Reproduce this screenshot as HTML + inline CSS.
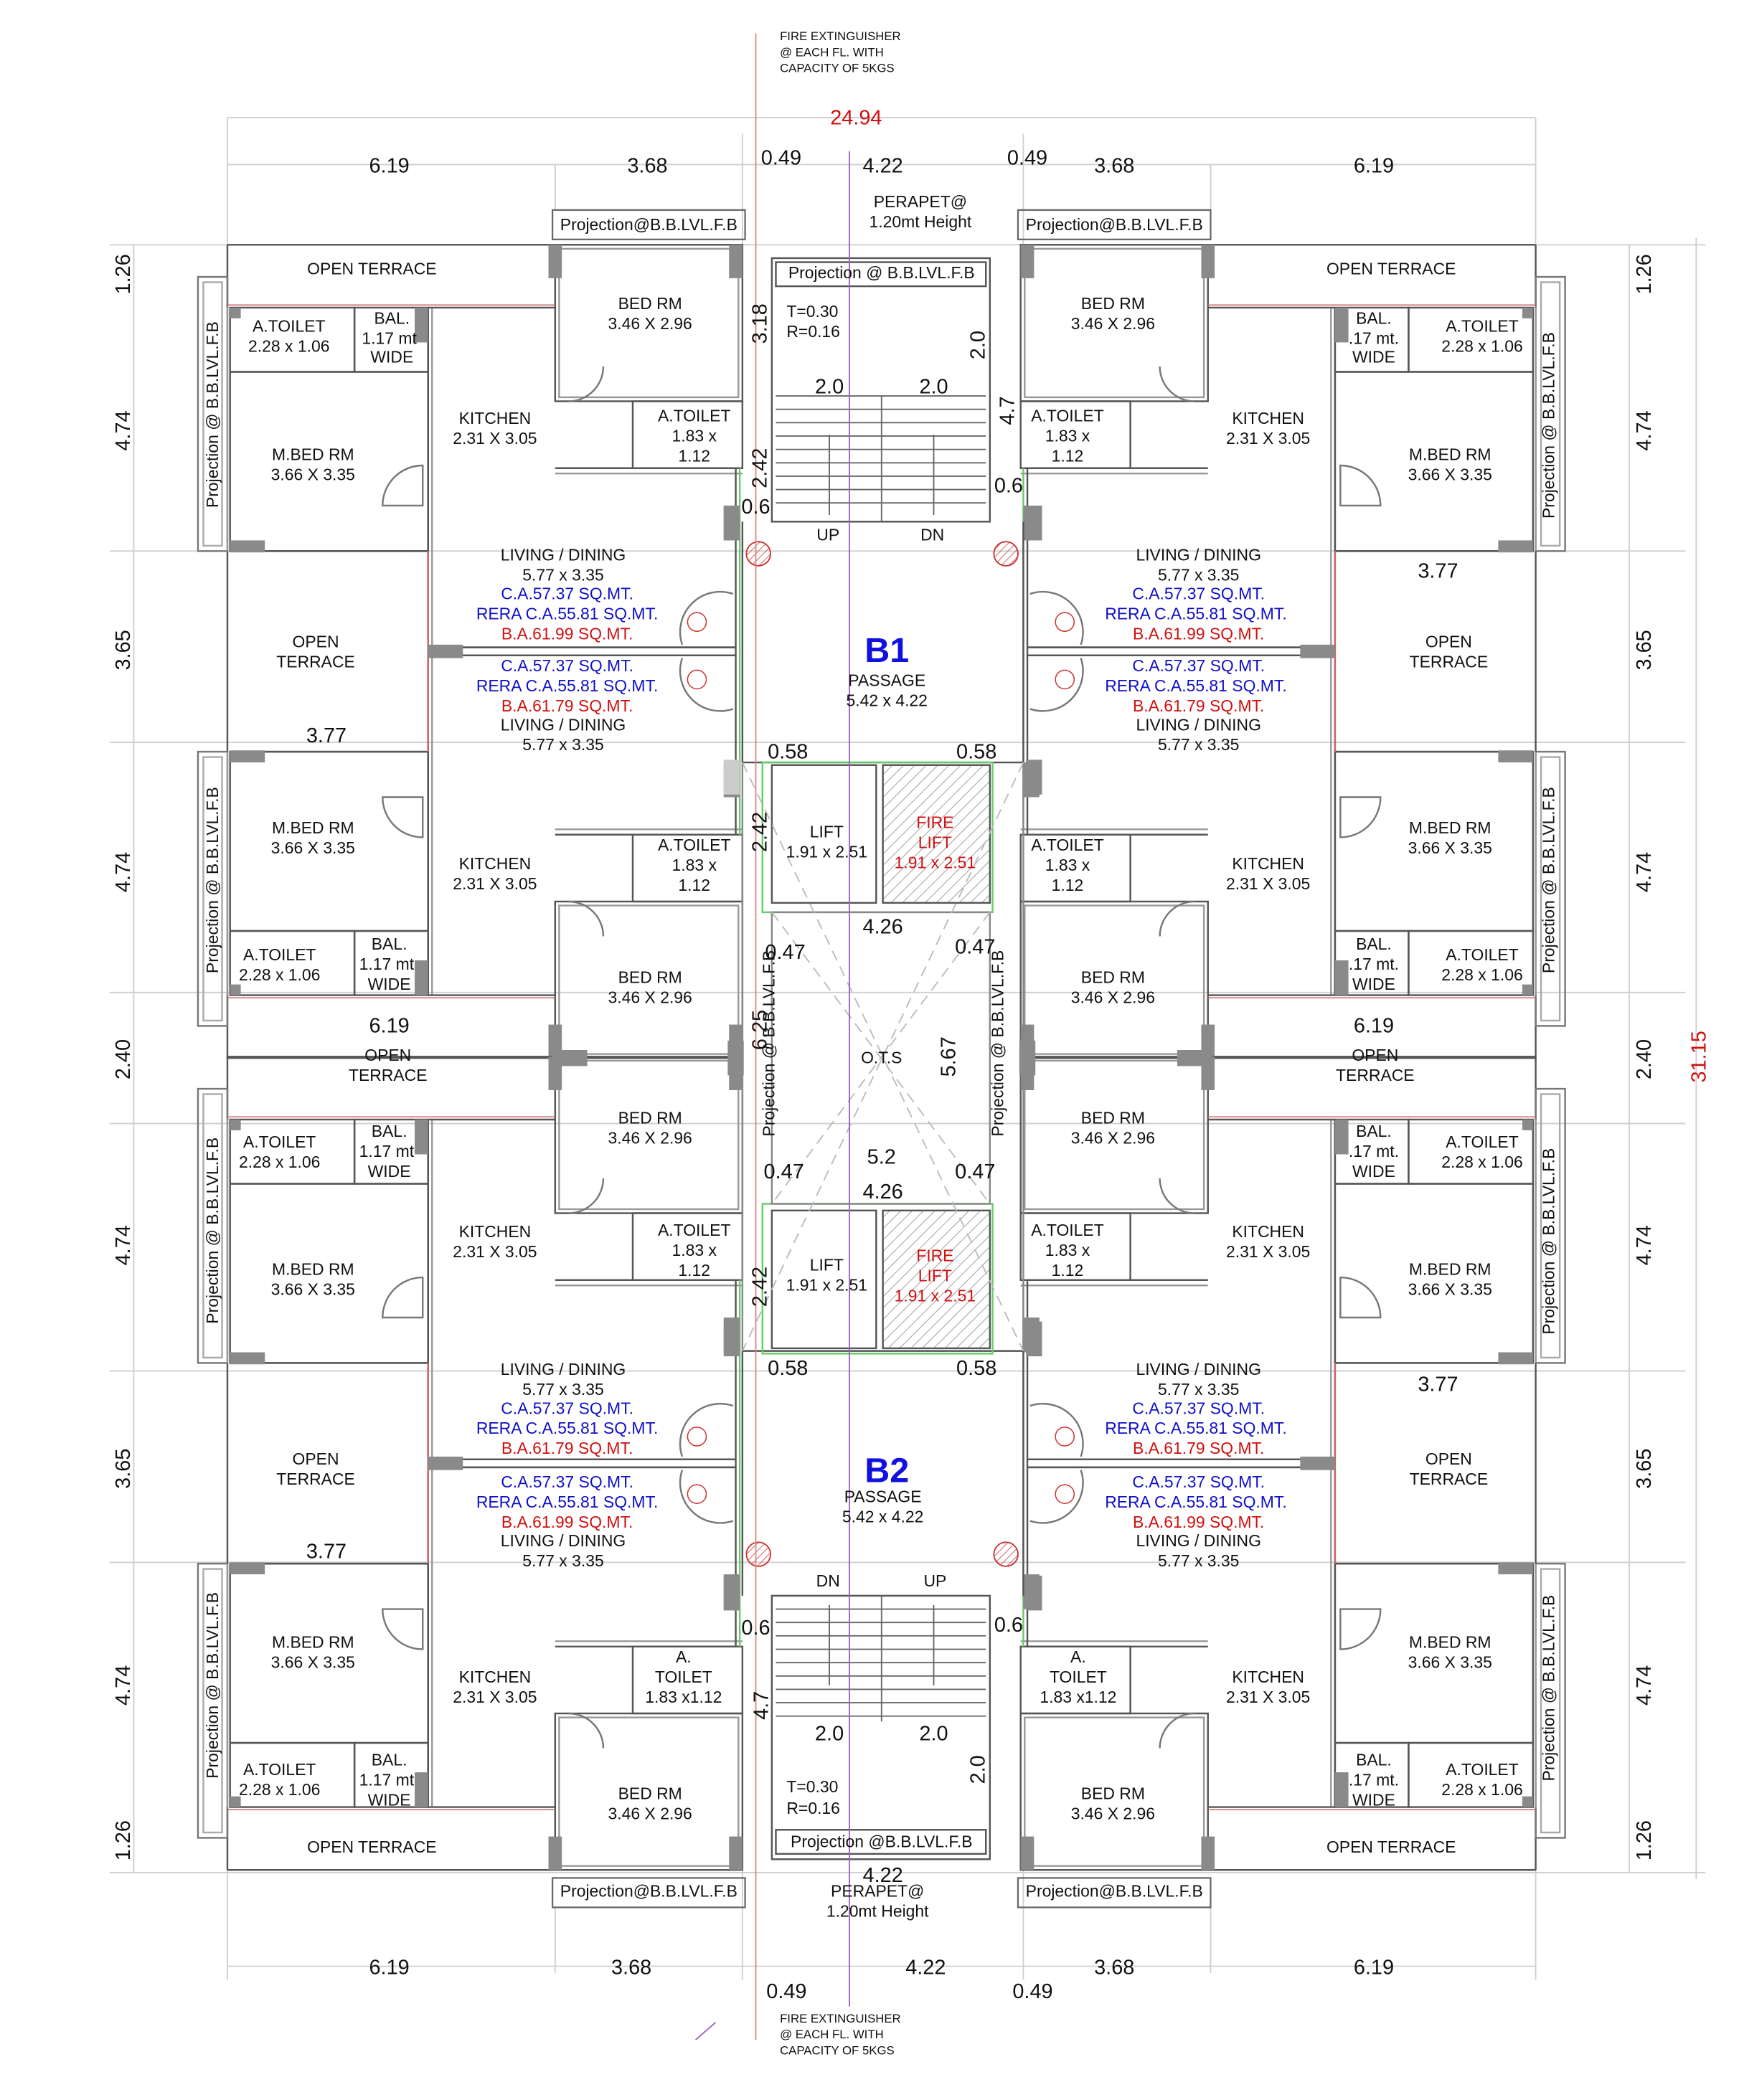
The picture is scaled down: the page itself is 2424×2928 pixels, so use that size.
<!DOCTYPE html>
<html><head><meta charset="utf-8"><style>
html,body{margin:0;padding:0;background:#fff;width:2424px;height:2928px;overflow:hidden}
svg{display:block}
text{font-family:"Liberation Sans",sans-serif;fill:#111}
.d{font-size:15.5px}
.r{font-size:12.3px}
.b{fill:#1010c8}
.rd{fill:#d01010}
.s{font-size:9px;fill:#d01010}
</style></head><body>
<svg width="2424" height="2928" viewBox="0 0 1300 1570" preserveAspectRatio="none" xmlns="http://www.w3.org/2000/svg">
<defs>
<pattern id="h" width="6" height="6" patternUnits="userSpaceOnUse" patternTransform="rotate(45)"><line x1="0" y1="0" x2="0" y2="6" stroke="#999" stroke-width="1"/></pattern>
<pattern id="hr" width="4" height="4" patternUnits="userSpaceOnUse" patternTransform="rotate(45)"><line x1="0" y1="0" x2="0" y2="4" stroke="#c33" stroke-width="0.8"/></pattern>
<g id="u" fill="none" stroke="#555" stroke-width="1.3">
 <line x1="170" y1="183" x2="415" y2="183"/>
 <line x1="170" y1="183" x2="170" y2="230"/>
 <rect x="148" y="207" width="22" height="205" stroke="#777"/>
 <rect x="152" y="211" width="14" height="197" stroke="#aaa"/>
 <rect x="172" y="230" width="93" height="48"/>
 <rect x="265" y="230" width="55" height="48"/>
 <rect x="172" y="278" width="148" height="134"/>
 <line x1="320" y1="230" x2="320" y2="487"/>
 <line x1="323" y1="230" x2="323" y2="487" stroke="#999"/>
 <line x1="320" y1="230" x2="415" y2="230"/>
 <rect x="415" y="183" width="140" height="117"/>
 <rect x="418" y="186" width="134" height="111" stroke="#999"/>
 <rect x="473" y="300" width="82" height="50"/>
 <line x1="415" y1="350" x2="555" y2="350"/>
 <line x1="415" y1="354" x2="555" y2="354" stroke="#999"/>
 <line x1="550" y1="350" x2="550" y2="487"/>
 <line x1="553" y1="350" x2="553" y2="487" stroke="#6c6"/>
 <line x1="320" y1="484" x2="550" y2="484"/>
 <line x1="320" y1="490" x2="550" y2="490"/>
 <line x1="170" y1="412" x2="170" y2="487"/>
 <line x1="172" y1="412" x2="320" y2="412"/>
 <line x1="170" y1="230" x2="170" y2="412" stroke="#999"/>
 <line x1="320" y1="412" x2="320" y2="487" stroke="#c66"/>
 <line x1="170" y1="228" x2="415" y2="228" stroke="#c66" stroke-width="0.8"/>
 <path d="M286 378 A30 30 0 0 1 316 348 L316 378 Z" stroke="#777"/>
 <path d="M425 300 A26 26 0 0 0 451 274" stroke="#777"/>
 <path d="M510 482 A30 30 0 0 1 548 444" stroke="#777"/>
</g>
<g id="c" fill="#8a8a8a">
 <rect x="410" y="183" width="10" height="25"/>
 <rect x="545" y="183" width="10" height="25"/>
 <rect x="172" y="404" width="26" height="9"/>
 <rect x="310" y="230" width="10" height="26"/>
 <rect x="172" y="230" width="8" height="8"/>
 <rect x="541" y="378" width="12" height="26"/>
 <rect x="320" y="482" width="26" height="10"/>
</g>
</defs>

<g stroke="#cfcfcf" stroke-width="1">
 <line x1="170" y1="88" x2="1148" y2="88"/>
 <line x1="170" y1="123" x2="1148" y2="123"/>
 <line x1="170" y1="1470" x2="1148" y2="1470"/>
 <line x1="82" y1="183" x2="1275" y2="183"/>
 <line x1="82" y1="412" x2="1260" y2="412"/>
 <line x1="82" y1="555" x2="1260" y2="555"/>
 <line x1="82" y1="742" x2="1260" y2="742"/>
 <line x1="82" y1="840" x2="1260" y2="840"/>
 <line x1="82" y1="1025" x2="1260" y2="1025"/>
 <line x1="82" y1="1168" x2="1260" y2="1168"/>
 <line x1="82" y1="1400" x2="1275" y2="1400"/>
 <line x1="100" y1="183" x2="100" y2="1400"/>
 <line x1="1218" y1="183" x2="1218" y2="1400"/>
 <line x1="1268" y1="178" x2="1268" y2="1405"/>
 <line x1="170" y1="88" x2="170" y2="1480"/>
 <line x1="1148" y1="88" x2="1148" y2="1480"/>
 <line x1="415" y1="123" x2="415" y2="157"/>
 <line x1="555" y1="100" x2="555" y2="190"/>
 <line x1="765" y1="100" x2="765" y2="190"/>
 <line x1="905" y1="123" x2="905" y2="157"/>
 <line x1="415" y1="1425" x2="415" y2="1475"/>
 <line x1="555" y1="1395" x2="555" y2="1480"/>
 <line x1="765" y1="1395" x2="765" y2="1480"/>
 <line x1="905" y1="1425" x2="905" y2="1475"/>
</g>

<use href="#u"/><use href="#c"/>
<use href="#u" transform="translate(0,974) scale(1,-1)"/><use href="#c" transform="translate(0,974) scale(1,-1)"/>
<use href="#u" transform="translate(0,607)"/><use href="#c" transform="translate(0,607)"/>
<use href="#u" transform="translate(0,1581) scale(1,-1)"/><use href="#c" transform="translate(0,1581) scale(1,-1)"/>
<g transform="translate(1318,0) scale(-1,1)">
<use href="#u"/><use href="#c"/>
<use href="#u" transform="translate(0,974) scale(1,-1)"/><use href="#c" transform="translate(0,974) scale(1,-1)"/>
<use href="#u" transform="translate(0,607)"/><use href="#c" transform="translate(0,607)"/>
<use href="#u" transform="translate(0,1581) scale(1,-1)"/><use href="#c" transform="translate(0,1581) scale(1,-1)"/>
</g>

<g fill="none" stroke="#666" stroke-width="1.2">
 <rect x="413" y="157" width="144" height="22"/>
 <rect x="761" y="157" width="144" height="22"/>
 <rect x="413" y="1404" width="144" height="22"/>
 <rect x="761" y="1404" width="144" height="22"/>
</g>

<g fill="none" stroke="#555" stroke-width="1.3">
 <rect x="577" y="193" width="163" height="197"/>
 <rect x="580" y="196" width="157" height="18"/>
 <rect x="577" y="1193" width="163" height="197"/>
 <rect x="580" y="1368" width="157" height="18"/>
 <line x1="555" y1="390" x2="555" y2="570"/><line x1="765" y1="390" x2="765" y2="570"/>
 <line x1="555" y1="1010" x2="555" y2="1193"/><line x1="765" y1="1010" x2="765" y2="1193"/>
 <line x1="555" y1="570" x2="765" y2="570"/><line x1="555" y1="1010" x2="765" y2="1010"/>
 <rect x="577" y="572" width="78" height="103"/>
 <rect x="660" y="572" width="80" height="103" fill="url(#h)"/>
 <rect x="577" y="905" width="78" height="103"/>
 <rect x="660" y="905" width="80" height="103" fill="url(#h)"/>
 <rect x="570" y="570" width="172" height="112" stroke="#6c6"/>
 <rect x="570" y="900" width="172" height="112" stroke="#6c6"/>
 <rect x="577" y="682" width="163" height="218" stroke="#888"/>
 <line x1="555" y1="570" x2="555" y2="1010" stroke="#888"/>
 <line x1="765" y1="570" x2="765" y2="1010" stroke="#888"/>
</g>
<g stroke="#666" stroke-width="1">
 <line x1="659" y1="296" x2="659" y2="390"/>
 <line x1="580" y1="296" x2="737" y2="296"/><line x1="580" y1="306" x2="737" y2="306"/>
 <line x1="580" y1="316" x2="737" y2="316"/><line x1="580" y1="326" x2="737" y2="326"/>
 <line x1="580" y1="336" x2="737" y2="336"/><line x1="580" y1="346" x2="737" y2="346"/>
 <line x1="580" y1="356" x2="737" y2="356"/><line x1="580" y1="366" x2="737" y2="366"/>
 <line x1="580" y1="376" x2="737" y2="376"/>
 <line x1="659" y1="1193" x2="659" y2="1287"/>
 <line x1="580" y1="1203" x2="737" y2="1203"/><line x1="580" y1="1213" x2="737" y2="1213"/>
 <line x1="580" y1="1223" x2="737" y2="1223"/><line x1="580" y1="1233" x2="737" y2="1233"/>
 <line x1="580" y1="1243" x2="737" y2="1243"/><line x1="580" y1="1253" x2="737" y2="1253"/>
 <line x1="580" y1="1263" x2="737" y2="1263"/><line x1="580" y1="1273" x2="737" y2="1273"/>
 <line x1="580" y1="1283" x2="737" y2="1283"/>
 <line x1="620" y1="325" x2="620" y2="385"/><line x1="698" y1="325" x2="698" y2="385"/>
 <line x1="620" y1="1200" x2="620" y2="1260"/><line x1="698" y1="1200" x2="698" y2="1260"/>
</g>
<g stroke="#bbb" stroke-width="1" stroke-dasharray="8,5" fill="none">
 <line x1="577" y1="682" x2="740" y2="900"/><line x1="740" y1="682" x2="577" y2="900"/>
 <line x1="555" y1="570" x2="765" y2="1010"/><line x1="765" y1="570" x2="555" y2="1010"/>
</g>
<g fill="#8a8a8a">
 <rect x="541" y="378" width="12" height="26"/><rect x="767" y="378" width="12" height="26"/>
 <rect x="541" y="568" width="12" height="26" fill="#ccc"/><rect x="767" y="568" width="12" height="26"/>
 <rect x="544" y="778" width="12" height="26"/><rect x="762" y="778" width="12" height="26"/>
 <rect x="541" y="988" width="12" height="26"/><rect x="767" y="988" width="12" height="26"/>
 <rect x="541" y="1178" width="12" height="26"/><rect x="767" y="1178" width="12" height="26"/>
 <rect x="413" y="785" width="26" height="12"/><rect x="880" y="785" width="26" height="12"/>
</g>
<g fill="url(#hr)" stroke="#c33" stroke-width="1">
 <circle cx="567" cy="414" r="9"/><circle cx="752" cy="414" r="9"/>
 <circle cx="567" cy="1162" r="9"/><circle cx="752" cy="1162" r="9"/>
</g>
<g fill="none" stroke="#c33" stroke-width="0.8">
 <circle cx="521" cy="465" r="7"/><circle cx="521" cy="508" r="7"/>
 <circle cx="796" cy="465" r="7"/><circle cx="796" cy="508" r="7"/>
 <circle cx="521" cy="1074" r="7"/><circle cx="521" cy="1117" r="7"/>
 <circle cx="796" cy="1074" r="7"/><circle cx="796" cy="1117" r="7"/>
</g>
<line x1="565" y1="25" x2="565" y2="1525" stroke="#d88" stroke-width="1"/>
<line x1="635" y1="113" x2="635" y2="1500" stroke="#a060c0" stroke-width="1"/>
<line x1="520" y1="1525" x2="535" y2="1512" stroke="#a060c0" stroke-width="1"/>

<g class="d" text-anchor="middle">
 <text x="640" y="93" class="rd">24.94</text>
 <text x="291" y="129">6.19</text><text x="484" y="129">3.68</text><text x="584" y="123">0.49</text>
 <text x="660" y="129">4.22</text><text x="768" y="123">0.49</text><text x="833" y="129">3.68</text><text x="1027" y="129">6.19</text>
 <text x="291" y="1476">6.19</text><text x="472" y="1476">3.68</text><text x="692" y="1476">4.22</text>
 <text x="833" y="1476">3.68</text><text x="1027" y="1476">6.19</text>
 <text x="588" y="1494">0.49</text><text x="772" y="1494">0.49</text>
 <text transform="translate(97,205) rotate(-90)">1.26</text>
 <text transform="translate(97,322) rotate(-90)">4.74</text>
 <text transform="translate(97,486) rotate(-90)">3.65</text>
 <text transform="translate(97,652) rotate(-90)">4.74</text>
 <text transform="translate(97,792) rotate(-90)">2.40</text>
 <text transform="translate(97,931) rotate(-90)">4.74</text>
 <text transform="translate(97,1098) rotate(-90)">3.65</text>
 <text transform="translate(97,1260) rotate(-90)">4.74</text>
 <text transform="translate(97,1376) rotate(-90)">1.26</text>
 <text transform="translate(1234,205) rotate(-90)">1.26</text>
 <text transform="translate(1234,322) rotate(-90)">4.74</text>
 <text transform="translate(1234,486) rotate(-90)">3.65</text>
 <text transform="translate(1234,652) rotate(-90)">4.74</text>
 <text transform="translate(1234,792) rotate(-90)">2.40</text>
 <text transform="translate(1234,931) rotate(-90)">4.74</text>
 <text transform="translate(1234,1098) rotate(-90)">3.65</text>
 <text transform="translate(1234,1260) rotate(-90)">4.74</text>
 <text transform="translate(1234,1376) rotate(-90)">1.26</text>
 <text transform="translate(1275,790) rotate(-90)" class="rd">31.15</text>
 <text x="244" y="555">3.77</text><text x="1075" y="432">3.77</text>
 <text x="244" y="1165">3.77</text><text x="1075" y="1040">3.77</text>
 <text x="291" y="772">6.19</text><text x="1027" y="772">6.19</text>
 <text transform="translate(573,242) rotate(-90)">3.18</text>
 <text transform="translate(736,258) rotate(-90)">2.0</text>
 <text x="620" y="294">2.0</text><text x="698" y="294">2.0</text>
 <text transform="translate(758,307) rotate(-90)">4.7</text>
 <text transform="translate(573,350) rotate(-90)">2.42</text>
 <text x="565" y="384">0.6</text><text x="754" y="368">0.6</text>
 <text x="589" y="567">0.58</text><text x="730" y="567">0.58</text>
 <text transform="translate(573,622) rotate(-90)">2.42</text>
 <text x="660" y="698">4.26</text>
 <text x="587" y="717">0.47</text><text x="729" y="713">0.47</text>
 <text transform="translate(573,770) rotate(-90)">6.25</text>
 <text transform="translate(714,790) rotate(-90)">5.67</text>
 <text x="659" y="870">5.2</text>
 <text x="586" y="881">0.47</text><text x="729" y="881">0.47</text>
 <text x="660" y="896">4.26</text>
 <text transform="translate(573,962) rotate(-90)">2.42</text>
 <text x="589" y="1028">0.58</text><text x="730" y="1028">0.58</text>
 <text x="565" y="1222">0.6</text><text x="754" y="1220">0.6</text>
 <text transform="translate(574,1275) rotate(-90)">4.7</text>
 <text x="620" y="1301">2.0</text><text x="698" y="1301">2.0</text>
 <text transform="translate(736,1323) rotate(-90)">2.0</text>
 <text x="660" y="1407">4.22</text>
</g>

<g class="s">
 <text x="583" y="30">FIRE EXTINGUISHER</text><text x="583" y="42">@ EACH FL. WITH</text><text x="583" y="54">CAPACITY OF 5KGS</text>
 <text x="583" y="1512">FIRE EXTINGUISHER</text><text x="583" y="1524">@ EACH FL. WITH</text><text x="583" y="1536">CAPACITY OF 5KGS</text>
</g>

<g class="r" text-anchor="middle">
 <text x="688" y="155">PERAPET@</text><text x="688" y="170">1.20mt Height</text>
 <text x="659" y="208">Projection @ B.B.LVL.F.B</text>
 <text x="588" y="237" text-anchor="start">T=0.30</text><text x="588" y="252" text-anchor="start">R=0.16</text>
 <text x="619" y="404">UP</text><text x="697" y="404">DN</text>
 <text x="663" y="495" style="font-size:26px;font-weight:bold;fill:#1010e0">B1</text>
 <text x="663" y="513">PASSAGE</text><text x="663" y="528">5.42 x 4.22</text>
 <text x="618" y="626">LIFT</text><text x="618" y="641">1.91 x 2.51</text>
 <text x="699" y="619" class="rd">FIRE</text><text x="699" y="634" class="rd">LIFT</text><text x="699" y="649" class="rd">1.91 x 2.51</text>
 <text transform="translate(579,780) rotate(-90)">Projection @ B.B.LVL.F.B</text>
 <text transform="translate(750,780) rotate(-90)">Projection @ B.B.LVL.F.B</text>
 <text x="659" y="795">O.T.S</text>
 <text x="618" y="950">LIFT</text><text x="618" y="965">1.91 x 2.51</text>
 <text x="699" y="943" class="rd">FIRE</text><text x="699" y="958" class="rd">LIFT</text><text x="699" y="973" class="rd">1.91 x 2.51</text>
 <text x="663" y="1108" style="font-size:26px;font-weight:bold;fill:#1010e0">B2</text>
 <text x="660" y="1123">PASSAGE</text><text x="660" y="1138">5.42 x 4.22</text>
 <text x="619" y="1186">DN</text><text x="699" y="1186">UP</text>
 <text x="588" y="1340" text-anchor="start">T=0.30</text><text x="588" y="1356" text-anchor="start">R=0.16</text>
 <text x="659" y="1381">Projection @B.B.LVL.F.B</text>
 <text x="656" y="1418">PERAPET@</text><text x="656" y="1433">1.20mt Height</text>
 <text x="485" y="172">Projection@B.B.LVL.F.B</text><text x="833" y="172">Projection@B.B.LVL.F.B</text>
 <text x="485" y="1418">Projection@B.B.LVL.F.B</text><text x="833" y="1418">Projection@B.B.LVL.F.B</text>
 <text transform="translate(163,310) rotate(-90)">Projection @ B.B.LVL.F.B</text>
 <text transform="translate(163,658) rotate(-90)">Projection @ B.B.LVL.F.B</text>
 <text transform="translate(163,920) rotate(-90)">Projection @ B.B.LVL.F.B</text>
 <text transform="translate(163,1260) rotate(-90)">Projection @ B.B.LVL.F.B</text>
 <text transform="translate(1162,318) rotate(-90)">Projection @ B.B.LVL.F.B</text>
 <text transform="translate(1162,658) rotate(-90)">Projection @ B.B.LVL.F.B</text>
 <text transform="translate(1162,928) rotate(-90)">Projection @ B.B.LVL.F.B</text>
 <text transform="translate(1162,1262) rotate(-90)">Projection @ B.B.LVL.F.B</text>
</g>

<g class="r" text-anchor="middle">
 <text x="278" y="205">OPEN TERRACE</text>
 <text x="216" y="248">A.TOILET</text><text x="216" y="263">2.28 x 1.06</text>
 <text x="293" y="242">BAL.</text><text x="291" y="257">1.17 mt</text><text x="293" y="271">WIDE</text>
 <text x="370" y="317">KITCHEN</text><text x="370" y="332">2.31 X 3.05</text>
 <text x="486" y="231">BED RM</text><text x="486" y="246">3.46 X 2.96</text>
 <text x="519" y="315">A.TOILET</text><text x="519" y="330">1.83 x</text><text x="519" y="345">1.12</text>
 <text x="234" y="344">M.BED RM</text><text x="234" y="359">3.66 X 3.35</text>
 <text x="421" y="419">LIVING / DINING</text><text x="421" y="434">5.77 x 3.35</text>
 <text x="424" y="448" class="b">C.A.57.37 SQ.MT.</text><text x="424" y="463" class="b">RERA C.A.55.81 SQ.MT.</text><text x="424" y="478" class="rd">B.A.61.99 SQ.MT.</text>
 <text x="236" y="484">OPEN</text><text x="236" y="499">TERRACE</text>
 <text x="424" y="502" class="b">C.A.57.37 SQ.MT.</text><text x="424" y="517" class="b">RERA C.A.55.81 SQ.MT.</text><text x="424" y="532" class="rd">B.A.61.79 SQ.MT.</text>
 <text x="421" y="546">LIVING / DINING</text><text x="421" y="561">5.77 x 3.35</text>
 <text x="234" y="623">M.BED RM</text><text x="234" y="638">3.66 X 3.35</text>
 <text x="370" y="650">KITCHEN</text><text x="370" y="665">2.31 X 3.05</text>
 <text x="519" y="636">A.TOILET</text><text x="519" y="651">1.83 x</text><text x="519" y="666">1.12</text>
 <text x="209" y="718">A.TOILET</text><text x="209" y="733">2.28 x 1.06</text>
 <text x="291" y="710">BAL.</text><text x="289" y="725">1.17 mt</text><text x="291" y="740">WIDE</text>
 <text x="486" y="735">BED RM</text><text x="486" y="750">3.46 X 2.96</text>
 <text x="290" y="793">OPEN</text><text x="290" y="808">TERRACE</text>
 <text x="486" y="840">BED RM</text><text x="486" y="855">3.46 X 2.96</text>
 <text x="209" y="858">A.TOILET</text><text x="209" y="873">2.28 x 1.06</text>
 <text x="291" y="850">BAL.</text><text x="289" y="865">1.17 mt</text><text x="291" y="880">WIDE</text>
 <text x="370" y="925">KITCHEN</text><text x="370" y="940">2.31 X 3.05</text>
 <text x="519" y="924">A.TOILET</text><text x="519" y="939">1.83 x</text><text x="519" y="954">1.12</text>
 <text x="234" y="953">M.BED RM</text><text x="234" y="968">3.66 X 3.35</text>
 <text x="421" y="1028">LIVING / DINING</text><text x="421" y="1043">5.77 x 3.35</text>
 <text x="424" y="1057" class="b">C.A.57.37 SQ.MT.</text><text x="424" y="1072" class="b">RERA C.A.55.81 SQ.MT.</text><text x="424" y="1087" class="rd">B.A.61.79 SQ.MT.</text>
 <text x="236" y="1095">OPEN</text><text x="236" y="1110">TERRACE</text>
 <text x="424" y="1112" class="b">C.A.57.37 SQ.MT.</text><text x="424" y="1127" class="b">RERA C.A.55.81 SQ.MT.</text><text x="424" y="1142" class="rd">B.A.61.99 SQ.MT.</text>
 <text x="421" y="1156">LIVING / DINING</text><text x="421" y="1171">5.77 x 3.35</text>
 <text x="234" y="1232">M.BED RM</text><text x="234" y="1247">3.66 X 3.35</text>
 <text x="370" y="1258">KITCHEN</text><text x="370" y="1273">2.31 X 3.05</text>
 <text x="511" y="1243">A.</text><text x="511" y="1258">TOILET</text><text x="511" y="1273">1.83 x1.12</text>
 <text x="209" y="1327">A.TOILET</text><text x="209" y="1342">2.28 x 1.06</text>
 <text x="291" y="1320">BAL.</text><text x="289" y="1335">1.17 mt</text><text x="291" y="1350">WIDE</text>
 <text x="486" y="1345">BED RM</text><text x="486" y="1360">3.46 X 2.96</text>
 <text x="278" y="1385">OPEN TERRACE</text>
</g>

<g class="r" text-anchor="middle">
 <text x="1040" y="205">OPEN TERRACE</text>
 <text x="1108" y="248">A.TOILET</text><text x="1108" y="263">2.28 x 1.06</text>
 <text x="1027" y="242">BAL.</text><text x="1027" y="257">.17 mt.</text><text x="1027" y="271">WIDE</text>
 <text x="948" y="317">KITCHEN</text><text x="948" y="332">2.31 X 3.05</text>
 <text x="832" y="231">BED RM</text><text x="832" y="246">3.46 X 2.96</text>
 <text x="798" y="315">A.TOILET</text><text x="798" y="330">1.83 x</text><text x="798" y="345">1.12</text>
 <text x="1084" y="344">M.BED RM</text><text x="1084" y="359">3.66 X 3.35</text>
 <text x="896" y="419">LIVING / DINING</text><text x="896" y="434">5.77 x 3.35</text>
 <text x="896" y="448" class="b">C.A.57.37 SQ.MT.</text><text x="894" y="463" class="b">RERA C.A.55.81 SQ.MT.</text><text x="896" y="478" class="rd">B.A.61.99 SQ.MT.</text>
 <text x="1083" y="484">OPEN</text><text x="1083" y="499">TERRACE</text>
 <text x="896" y="502" class="b">C.A.57.37 SQ.MT.</text><text x="894" y="517" class="b">RERA C.A.55.81 SQ.MT.</text><text x="896" y="532" class="rd">B.A.61.79 SQ.MT.</text>
 <text x="896" y="546">LIVING / DINING</text><text x="896" y="561">5.77 x 3.35</text>
 <text x="1084" y="623">M.BED RM</text><text x="1084" y="638">3.66 X 3.35</text>
 <text x="948" y="650">KITCHEN</text><text x="948" y="665">2.31 X 3.05</text>
 <text x="798" y="636">A.TOILET</text><text x="798" y="651">1.83 x</text><text x="798" y="666">1.12</text>
 <text x="1108" y="718">A.TOILET</text><text x="1108" y="733">2.28 x 1.06</text>
 <text x="1027" y="710">BAL.</text><text x="1027" y="725">.17 mt.</text><text x="1027" y="740">WIDE</text>
 <text x="832" y="735">BED RM</text><text x="832" y="750">3.46 X 2.96</text>
 <text x="1028" y="793">OPEN</text><text x="1028" y="808">TERRACE</text>
 <text x="832" y="840">BED RM</text><text x="832" y="855">3.46 X 2.96</text>
 <text x="1108" y="858">A.TOILET</text><text x="1108" y="873">2.28 x 1.06</text>
 <text x="1027" y="850">BAL.</text><text x="1027" y="865">.17 mt.</text><text x="1027" y="880">WIDE</text>
 <text x="948" y="925">KITCHEN</text><text x="948" y="940">2.31 X 3.05</text>
 <text x="798" y="924">A.TOILET</text><text x="798" y="939">1.83 x</text><text x="798" y="954">1.12</text>
 <text x="1084" y="953">M.BED RM</text><text x="1084" y="968">3.66 X 3.35</text>
 <text x="896" y="1028">LIVING / DINING</text><text x="896" y="1043">5.77 x 3.35</text>
 <text x="896" y="1057" class="b">C.A.57.37 SQ.MT.</text><text x="894" y="1072" class="b">RERA C.A.55.81 SQ.MT.</text><text x="896" y="1087" class="rd">B.A.61.79 SQ.MT.</text>
 <text x="1083" y="1095">OPEN</text><text x="1083" y="1110">TERRACE</text>
 <text x="896" y="1112" class="b">C.A.57.37 SQ.MT.</text><text x="894" y="1127" class="b">RERA C.A.55.81 SQ.MT.</text><text x="896" y="1142" class="rd">B.A.61.99 SQ.MT.</text>
 <text x="896" y="1156">LIVING / DINING</text><text x="896" y="1171">5.77 x 3.35</text>
 <text x="1084" y="1232">M.BED RM</text><text x="1084" y="1247">3.66 X 3.35</text>
 <text x="948" y="1258">KITCHEN</text><text x="948" y="1273">2.31 X 3.05</text>
 <text x="806" y="1243">A.</text><text x="806" y="1258">TOILET</text><text x="806" y="1273">1.83 x1.12</text>
 <text x="1108" y="1327">A.TOILET</text><text x="1108" y="1342">2.28 x 1.06</text>
 <text x="1027" y="1320">BAL.</text><text x="1027" y="1335">.17 mt.</text><text x="1027" y="1350">WIDE</text>
 <text x="832" y="1345">BED RM</text><text x="832" y="1360">3.46 X 2.96</text>
 <text x="1040" y="1385">OPEN TERRACE</text>
</g>
</svg>
</body></html>
